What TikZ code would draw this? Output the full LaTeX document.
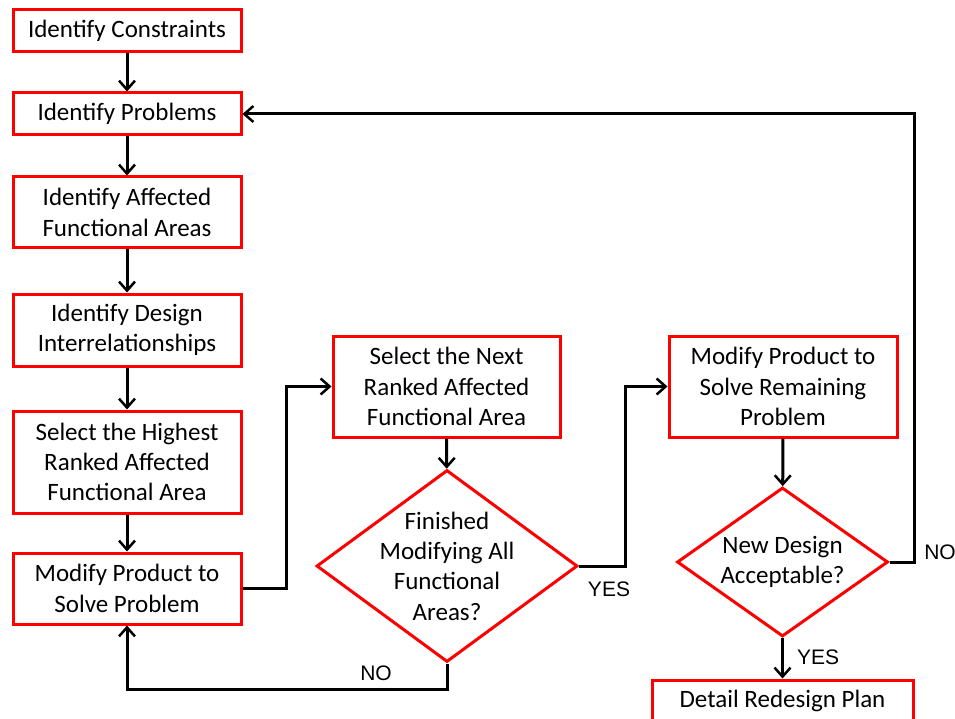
\documentclass[tikz,border=0pt]{standalone}
\usepackage{fontspec}
\setmainfont{Carlito}
\newfontfamily\labelfont{Liberation Sans}
\usetikzlibrary{arrows.meta,shapes.geometric}
\begin{document}
\begin{tikzpicture}[x=1pt,y=-1pt,
  stepbox/.style={draw=red,line width=3pt,fill=white,inner sep=0pt,
    minimum width=228pt,align=center,
    font=\fontsize{25}{30.3}\selectfont},
  decision/.style={draw=red,line width=3pt,shape=diamond,inner sep=0pt,
    fill=white},
  dtext/.style={align=center,font=\fontsize{25}{30.3}\selectfont},
  arr/.style={draw=black,line width=3pt,
    -{Straight Barb[length=9pt,width=16pt,line width=2.5pt]}},
  answer/.style={font=\labelfont\fontsize{21}{24}\selectfont}]
\useasboundingbox (0,0) rectangle (955,719);
\clip (0,0) rectangle (955,719);

% left column
\node[stepbox,minimum height=42pt] (b1) at (127,30.5) {Identify Constraints};
\node[stepbox,minimum height=42pt] (b2) at (127,114) {Identify Problems};
\node[stepbox,minimum height=71pt] (b3) at (127,212.5) {Identify Affected\\Functional Areas};
\node[stepbox,minimum height=72pt] (b4) at (127,330) {Identify Design\\Interrelationships};
\node[stepbox,minimum height=102pt] (b5) at (127,462) {Select the Highest\\Ranked Affected\\Functional Area};
\node[stepbox,minimum height=71pt] (b6) at (127,588.5) {Modify Product to\\Solve Problem};

% middle column
\node[stepbox,minimum width=227pt,minimum height=101pt] (b7) at (446.5,386.5) {Select the Next\\Ranked Affected\\Functional Area};
\node[decision,minimum width=261pt,minimum height=192pt] (d1) at (447,566) {};
\node[dtext] at (d1.center) {Finished\\Modifying All\\Functional\\Areas?};

% right column
\node[stepbox,minimum height=101pt] (b8) at (783,386.5) {Modify Product to\\Solve Remaining\\Problem};
\node[decision,minimum width=211pt,minimum height=149pt] (d2) at (782.5,562) {};
\node[dtext] at (d2.center) {New Design\\Acceptable?};
\node[stepbox,minimum width=261pt,minimum height=42pt] (b9) at (782.5,701) {Detail Redesign Plan};

% connectors
\draw[arr] (b1) -- (b2);
\draw[arr] (b2) -- (b3);
\draw[arr] (b3) -- (b4);
\draw[arr] (b4) -- (b5);
\draw[arr] (b5) -- (b6);
\draw[arr] (b6.east) -- ++(44,0) |- (b7.west);
\draw[arr] (b7) -- (d1);
\draw[arr] (d1.east) -- ++(46,0) |- (b8.west);
\draw[arr] (d1.south) -- ++(0,26) -| (b6.south);
\draw[arr] (b8) -- (d2);
\draw[arr] (d2.east) -- ++(25,0) |- (b2.east);
\draw[arr] (d2) -- (b9);

% answers
\node[answer] at (609,589) {YES};
\node[answer] at (376,673) {NO};
\node[answer] at (940,552) {NO};
\node[answer] at (818,657) {YES};
\end{tikzpicture}
\end{document}
